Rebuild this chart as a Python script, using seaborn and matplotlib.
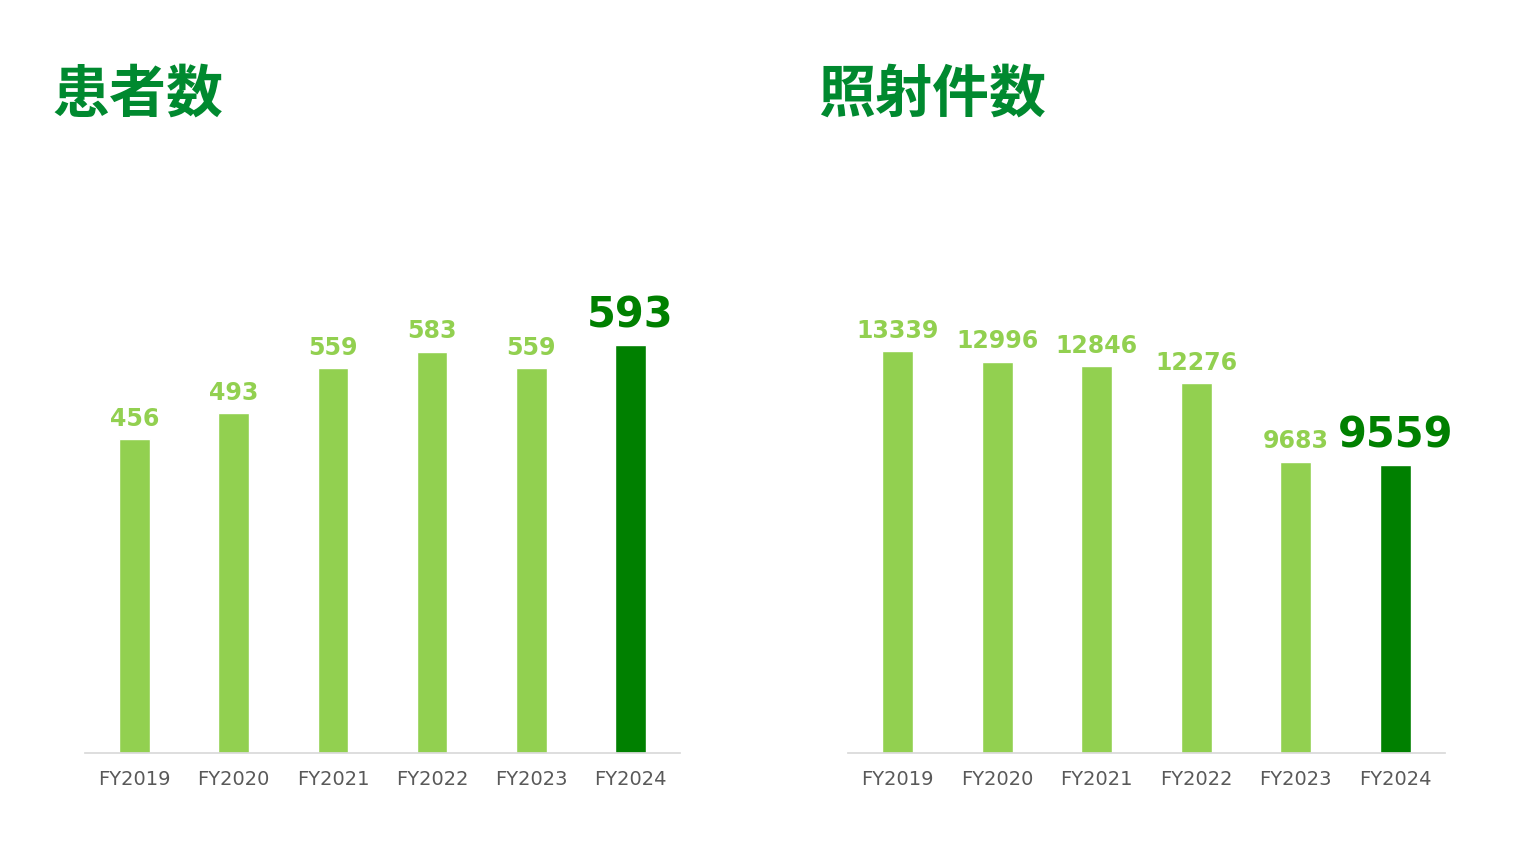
import matplotlib
matplotlib.use("Agg")
import matplotlib.pyplot as plt
import seaborn as sns
import pandas as pd

years = ["FY2019", "FY2020", "FY2021", "FY2022", "FY2023", "FY2024"]
patients = [456, 493, 559, 583, 559, 593]
irradiations = [13339, 12996, 12846, 12276, 9683, 9559]
titles = ["患者数", "照射件数"]

sns.set_theme(style="white")
plt.rcParams['font.family'] = ['Noto Sans CJK JP', 'DejaVu Sans']

LIGHT = "#92D050"
DARK = "#008000"
colors = [LIGHT] * 5 + [DARK]

fig = plt.figure(figsize=(15.2, 8.55), dpi=100)
W, H = 1520, 855
specs = [(85, 680, 803, patients, 60), (848, 1445, 18370, irradiations, 60)]
title_x = [52, 818]
for i, (x0, x1, ymax, vals, _) in enumerate(specs):
    ax = fig.add_axes([x0 / W, (H - 753) / H, (x1 - x0) / W, 553 / H])
    df = pd.DataFrame({"year": years, "v": vals})
    sns.barplot(data=df, x="year", y="v", hue="year", palette=colors, legend=False,
                width=0.31, ax=ax, saturation=1)
    ax.set_ylim(0, ymax)
    ax.set_xlim(-0.5, 5.5)
    ax.set_xlabel(""); ax.set_ylabel("")
    ax.set_yticks([])
    for s in ["top", "right", "left"]:
        ax.spines[s].set_visible(False)
    ax.spines["bottom"].set_color("#D9D9D9")
    ax.tick_params(axis="x", length=0, pad=12, labelsize=14, labelcolor="#595959")
    for lab in ax.get_xticklabels():
        lab.set_family(["DejaVu Sans"])
    for j, v in enumerate(vals):
        last = j == len(vals) - 1
        ax.annotate(str(v), (j, v), xytext=(0, 6), textcoords="offset points",
                    ha="center", va="bottom", fontweight="bold",
                    fontsize=30 if last else 17, color=DARK if last else LIGHT,
                    family=["DejaVu Sans"])
    fig.text(title_x[i] / W, 1 - 95 / H, titles[i], fontsize=41, fontweight="bold",
             color="#00892F", va="center", ha="left")

fig.savefig("out.png", dpi=100)
